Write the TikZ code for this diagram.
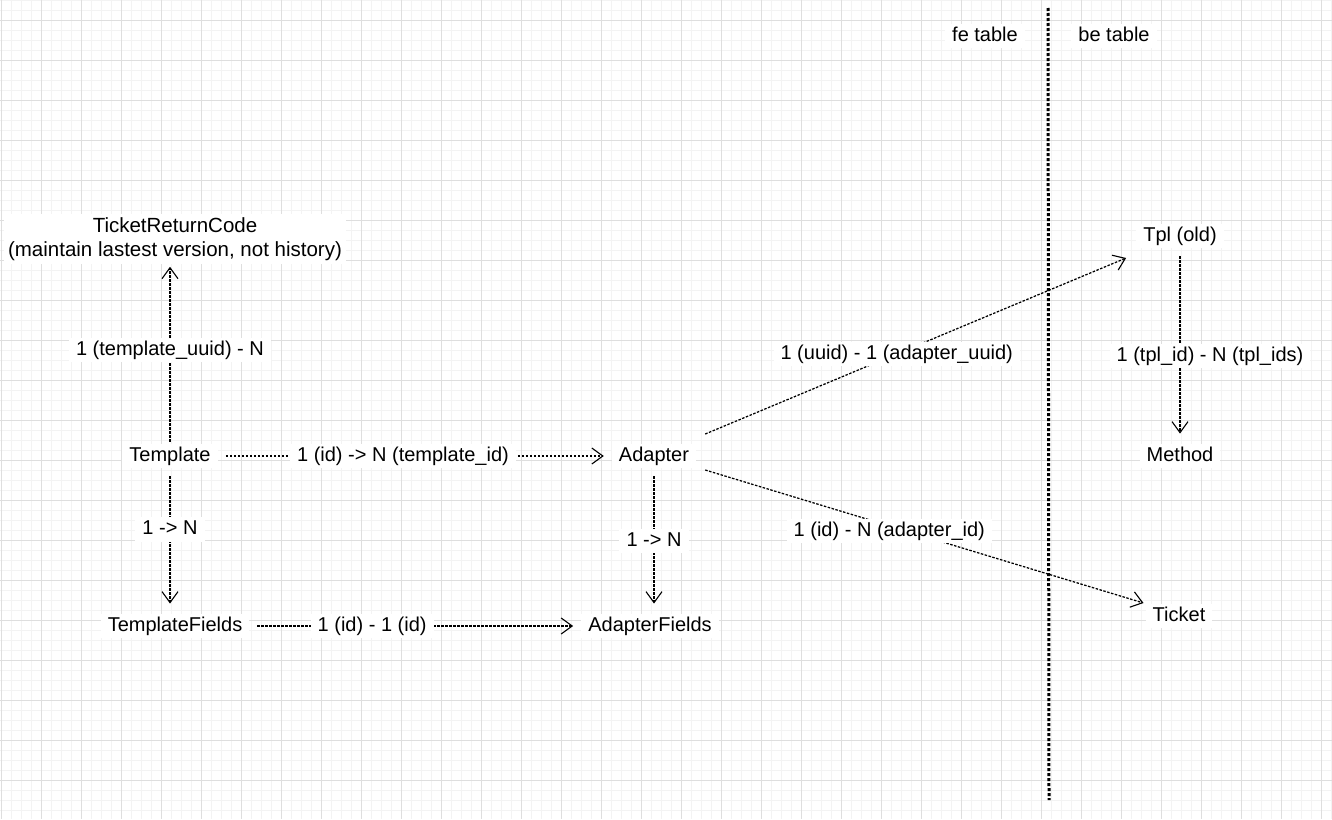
\documentclass[tikz,border=0pt]{standalone}
\usepackage{fontspec}
\setmainfont{Liberation Sans}
\usetikzlibrary{arrows.meta}
\definecolor{gmaj}{HTML}{DEDEDE}
\definecolor{gmin}{HTML}{F3F3F3}
\begin{document}
\begin{tikzpicture}[x=1pt,y=-1pt,
  txt/.style={fill=white, inner xsep=7pt, inner ysep=3pt, font=\fontsize{20}{24}\selectfont, text height=14.5pt, text depth=4pt},
  mtxt/.style={fill=white, inner xsep=4pt, inner ysep=3pt, font=\fontsize{20.5}{24}\selectfont, align=center},
  conn/.style={draw=black, line width=1.25pt, dash pattern=on 2.5pt off 1.5pt, -{Straight Barb[length=11pt,width=16pt,line width=1.1pt]}},
  divider/.style={draw=black, line width=3pt, dash pattern=on 3pt off 2pt}
]
\useasboundingbox (0,0) rectangle (1332,819);
\fill[white] (0,0) rectangle (1332,819);
% grid
\foreach \x in {1.5,11.5,...,1331.5} \draw[gmin, line width=0.8pt] (\x,0) -- (\x,819);
\foreach \y in {0,10,...,819} \draw[gmin, line width=0.8pt] (0,\y) -- (1332,\y);
\foreach \x in {1.5,41.5,...,1331.5} \draw[gmaj, line width=0.8pt] (\x,0) -- (\x,819);
\foreach \y in {20,60,...,819} \draw[gmaj, line width=0.8pt] (0,\y) -- (1332,\y);

% divider
\coordinate (dtop) at (1048,8);
\coordinate (dbot) at (1049,800);
\draw[divider] (dtop) -- (dbot);
\node[txt] (fe) at (985,36) {fe table};
\node[txt] (be) at (1114,36) {be table};

% nodes
\node[mtxt] (trc) at (175,239) {TicketReturnCode\\(maintain lastest version, not history)};
\node[txt] (tmpl) at (170,456) {Template};
\node[txt] (adp) at (654,456) {Adapter};
\node[txt] (tf) at (175,626) {TemplateFields};
\node[txt] (af) at (650,626) {AdapterFields};
\node[txt] (tpl) at (1180,236) {Tpl (old)};
\node[txt] (meth) at (1180,456) {Method};
\node[txt] (tick) at (1179,616) {Ticket};

% connectors
\draw[conn, shorten <=2pt, shorten >=3pt] (tmpl.north) -- (tmpl.north |- trc.south)
  node[txt, pos=0.52] {1 (template\_uuid) - N};
\draw[conn, shorten <=8pt, shorten >=8pt] (tmpl.east) -- (adp.west)
  node[txt, pos=0.47] {1 (id) -> N (template\_id)};
\draw[conn, shorten <=8pt, shorten >=10pt] (tmpl.south) -- (tmpl.south |- tf.north)
  node[txt, pos=0.42] {1 -> N};
\draw[conn, shorten <=8pt, shorten >=10pt] (adp.south) -- (adp.south |- af.north)
  node[txt, midway] {1 -> N};
\draw[conn, shorten <=8pt, shorten >=8pt] (tf.east) -- (af.west)
  node[txt, pos=0.37] {1 (id) - 1 (id)};
\draw[conn] ([xshift=9pt,yshift=22pt]adp.east) -- ([xshift=-10pt,yshift=-22pt]tpl.west)
  node[txt, pos=0.455] {1 (uuid) - 1 (adapter\_uuid)};
\draw[conn] ([xshift=9pt,yshift=-14pt]adp.east) -- ([xshift=-2pt,yshift=13pt]tick.west)
  node[txt, pos=0.42, yshift=-5pt] {1 (id) - N (adapter\_id)};
\draw[conn, shorten <=8pt, shorten >=10pt] (tpl.south) -- (meth.north)
  node[txt, pos=0.55, xshift=30pt] {1 (tpl\_id) - N (tpl\_ids)};
\end{tikzpicture}
\end{document}
